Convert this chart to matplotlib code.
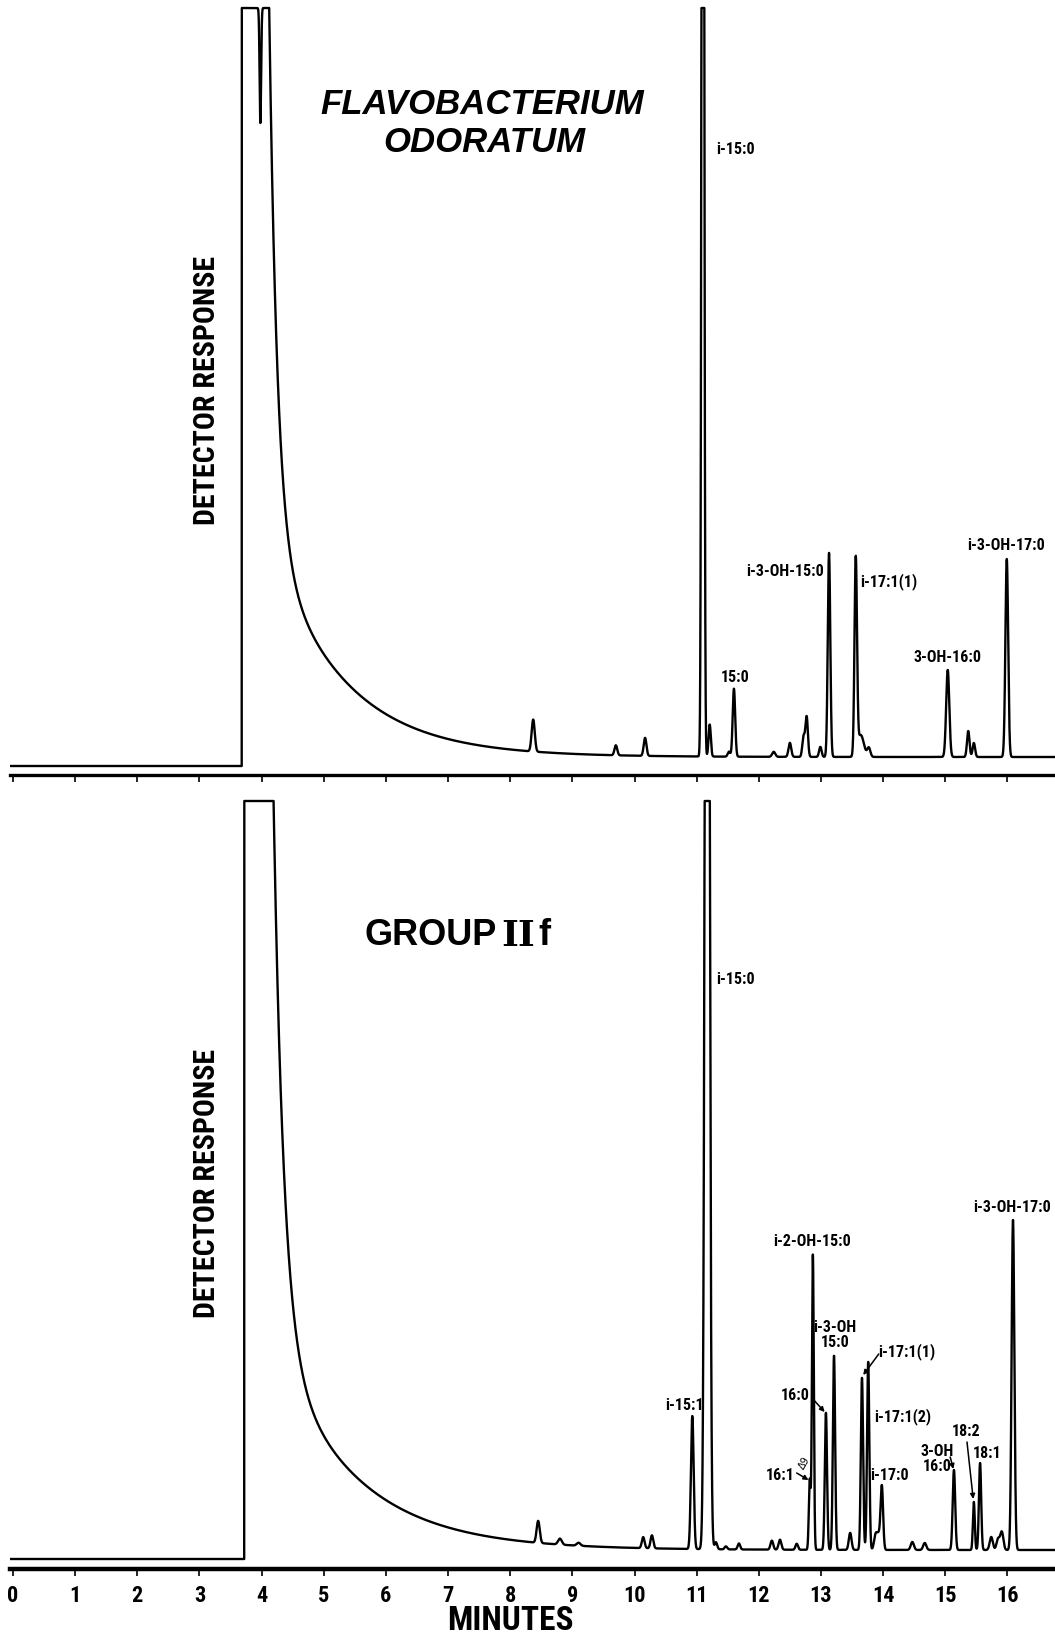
import numpy as np
import matplotlib
matplotlib.use('Agg')
import matplotlib.pyplot as plt
from matplotlib import font_manager as fm

# retention times (min), peak heights and widths
# heights are in detector units, pre-solvent baseline = 0, full scale = 758
SAT = 758

top_rt = [8.37, 9.70, 10.17, 11.10, 11.21, 11.52, 11.60, 12.24, 12.50, 12.72, 12.77,
          12.99, 13.13, 13.56, 13.64, 13.77, 15.04, 15.37, 15.46, 15.99]
top_height = [32, 10, 18, 2000, 32, 5, 68, 5, 14, 20, 40,
              10, 204, 195, 22, 9, 87, 26, 14, 198]
top_width = [0.025, 0.022, 0.022, 0.017, 0.018, 0.02, 0.02, 0.025, 0.022, 0.02, 0.02,
             0.02, 0.02, 0.02, 0.05, 0.025, 0.025, 0.02, 0.02, 0.022]

bot_rt = [8.45, 8.80, 9.10, 10.14, 10.28, 10.93, 11.17, 11.31, 11.47, 11.68, 12.21,
          12.34, 12.61, 12.82, 12.87, 13.08, 13.21, 13.47, 13.66, 13.76, 13.88,
          13.93, 13.98, 14.47, 14.67, 15.14, 15.46, 15.56, 15.74, 15.85, 15.91, 16.09]
bot_height = [22, 6, 3, 11, 13, 133, 2000, 7, 3, 6, 9,
              10, 6, 70, 295, 137, 194, 17, 172, 188, 15,
              14, 63, 8, 7, 80, 48, 87, 13, 11, 18, 330]
bot_width = [0.025, 0.03, 0.03, 0.022, 0.022, 0.022, 0.03, 0.02, 0.02, 0.02, 0.022,
             0.022, 0.02, 0.015, 0.015, 0.018, 0.018, 0.022, 0.018, 0.018, 0.025,
             0.025, 0.02, 0.025, 0.025, 0.02, 0.015, 0.018, 0.025, 0.025, 0.025, 0.022]

# solvent front: start, end of overload, fast tail (amp, tau), slow tail (amp, tau), baseline shift
top_solvent = [3.68, 4.12, 538, 0.13, 220, 1.15, 9]
bot_solvent = [3.72, 4.19, 548, 0.164, 210, 1.26, 9]
top_dip = [3.98, 115, 0.012]  # pen dip inside the overloaded solvent peak

top_labels = [
    ('i-15:0', 11.31, 617, 'left'),
    ('15:0', 11.62, 88, 'center'),
    ('i-3-OH-15:0', 13.05, 194, 'right'),
    ('i-17:1(1)', 13.64, 184, 'left'),
    ('3-OH-16:0', 15.03, 108, 'center'),
    ('i-3-OH-17:0', 15.98, 221, 'center'),
]
bot_labels = [
    ('i-15:0', 11.31, 580, 'left'),
    ('i-15:1', 10.81, 154, 'center'),
    ('i-2-OH-15:0', 12.86, 317, 'center'),
    ('i-3-OH\n15:0', 13.23, 224, 'center'),
    ('i-17:1(1)', 13.92, 207, 'left'),
    ('16:0', 12.82, 164, 'right'),
    ('i-17:1(2)', 13.85, 142, 'left'),
    ('16:1', 12.58, 84, 'right'),
    ('i-17:0', 14.11, 84, 'center'),
    ('3-OH\n16:0', 14.87, 100, 'center'),
    ('18:2', 15.33, 127, 'center'),
    ('18:1', 15.67, 106, 'center'),
    ('i-3-OH-17:0', 16.07, 352, 'center'),
]
bot_arrows = [
    ((13.93, 205), (13.68, 184)),
    ((12.87, 160), (13.06, 147)),
    ((12.61, 86), (12.80, 79)),
    ((15.08, 102), (15.13, 90)),
    ((15.35, 117), (15.45, 60)),
]

minutes = list(range(0, 17))


def narrow_font():
    # look for any condensed bold face on the machine, else plain Liberation Sans
    tries = [('Liberation Sans Narrow', 'normal'), ('Roboto Condensed', 'normal'),
             ('Open Sans Condensed', 'normal'), ('Noto Sans', 'condensed'),
             ('DejaVu Sans', 'condensed'), ('Roboto', 'condensed'), ('Open Sans', 'condensed')]
    for fam, st in tries:
        try:
            p = fm.findfont(fm.FontProperties(family=fam, stretch=st, weight='bold'),
                            fallback_to_default=False)
        except Exception:
            continue
        low = p.lower()
        if 'narrow' in low or 'condensed' in low or 'cond' in low:
            return fm.FontProperties(fname=p)
    return None


NARROW = narrow_font()
plt.rcParams['font.family'] = ['Liberation Sans', 'DejaVu Sans']


def ntext(obj, *args, size=10, **kw):
    if NARROW is not None:
        fp = NARROW.copy()
        fp.set_size(size)
        return obj.text(*args, fontproperties=fp, **kw)
    return obj.text(*args, fontsize=size * 0.9, fontweight='bold', **kw)


def trace(t, rt, height, width, solv, dip=None):
    y = np.zeros_like(t)
    for r, h, w in zip(rt, height, width):
        y += h * np.exp(-0.5 * ((t - r) / w) ** 2)
    start, end, a1, tau1, a2, tau2, shift = solv
    dt = np.clip(t - end, 0, None)
    tail = np.where(t > end, a1 * np.exp(-dt / tau1) + a2 * np.exp(-dt / tau2), 5000)
    y += np.where(t >= start, tail + shift, 0)
    y = np.minimum(y, SAT)
    if dip is not None:
        y -= dip[1] * np.exp(-0.5 * ((t - dip[0]) / dip[2]) ** 2)
    return y


W, H = 1055, 1641
fig = plt.figure(figsize=(W / 100, H / 100), dpi=100)
t = np.linspace(-0.05, 16.8, 40000)
x0, x1 = -3 / 62.15, (W - 13) / 62.15

ax1 = fig.add_axes([10 / W, (H - 775) / H, (W - 10) / W, 769 / H])
ax2 = fig.add_axes([10 / W, (H - 1569) / H, (W - 10) / W, 770 / H])

ax1.plot(t, trace(t, top_rt, top_height, top_width, top_solvent, top_dip), color='black', lw=1.7)
ax2.plot(t, trace(t, bot_rt, bot_height, bot_width, bot_solvent), color='black', lw=1.7)
ax1.set_ylim(-9, 760)
ax2.set_ylim(-10, 760)

for ax in (ax1, ax2):
    ax.set_xlim(x0, x1)
    for s in ['top', 'left', 'right']:
        ax.spines[s].set_visible(False)
    ax.set_yticks([])
    ax.set_xticks(minutes)
    ax.tick_params(axis='x', direction='out', length=5, width=1.2)

ax1.spines['bottom'].set_linewidth(2.4)
ax2.spines['bottom'].set_linewidth(3.2)
ax1.set_xticklabels([])
ax2.set_xticklabels([])
for m in minutes:
    ntext(ax2, m, -0.035, str(m), size=16, ha='center', va='center',
          transform=ax2.get_xaxis_transform())

for txt, x, y, ha in top_labels:
    ntext(ax1, x, y, txt, size=11.5, ha=ha, va='center')
for txt, x, y, ha in bot_labels:
    ntext(ax2, x, y, txt, size=11.5, ha=ha, va='center', linespacing=1.0)
for (xa, ya), (xb, yb) in bot_arrows:
    ax2.annotate('', xy=(xb, yb), xytext=(xa, ya),
                 arrowprops=dict(arrowstyle='-|>', lw=1.1, color='black', mutation_scale=7,
                                 shrinkA=0, shrinkB=0))
ax2.text(12.74, 96, '\u03949', rotation=60, ha='center', va='center', family='DejaVu Sans',
         fontsize=7)

# titles
fig.text(482 / W, 1 - 104 / H, 'FLAVOBACTERIUM', ha='center', va='center', fontsize=25,
         fontweight='bold', fontstyle='italic')
fig.text(484 / W, 1 - 143 / H, 'ODORATUM', ha='center', va='center', fontsize=25,
         fontweight='bold', fontstyle='italic')
fig.text(431 / W, 1 - 936 / H, 'GROUP', ha='center', va='center', fontsize=26, fontweight='bold')
fig.text(518 / W, 1 - 936 / H, 'II', ha='center', va='center', fontsize=26, fontweight='bold',
         family='DejaVu Serif')
fig.text(544 / W, 1 - 936 / H, 'f', ha='center', va='center', fontsize=26, fontweight='bold')

for yc in (390, 1183):
    ntext(fig, 207 / W, 1 - yc / H, 'DETECTOR RESPONSE', size=21.5, rotation=90,
          ha='center', va='center')

ntext(fig, 510 / W, 1 - 1621 / H, 'MINUTES', size=24, ha='center', va='center')

fig.savefig('out.png', dpi=100, facecolor='white')
